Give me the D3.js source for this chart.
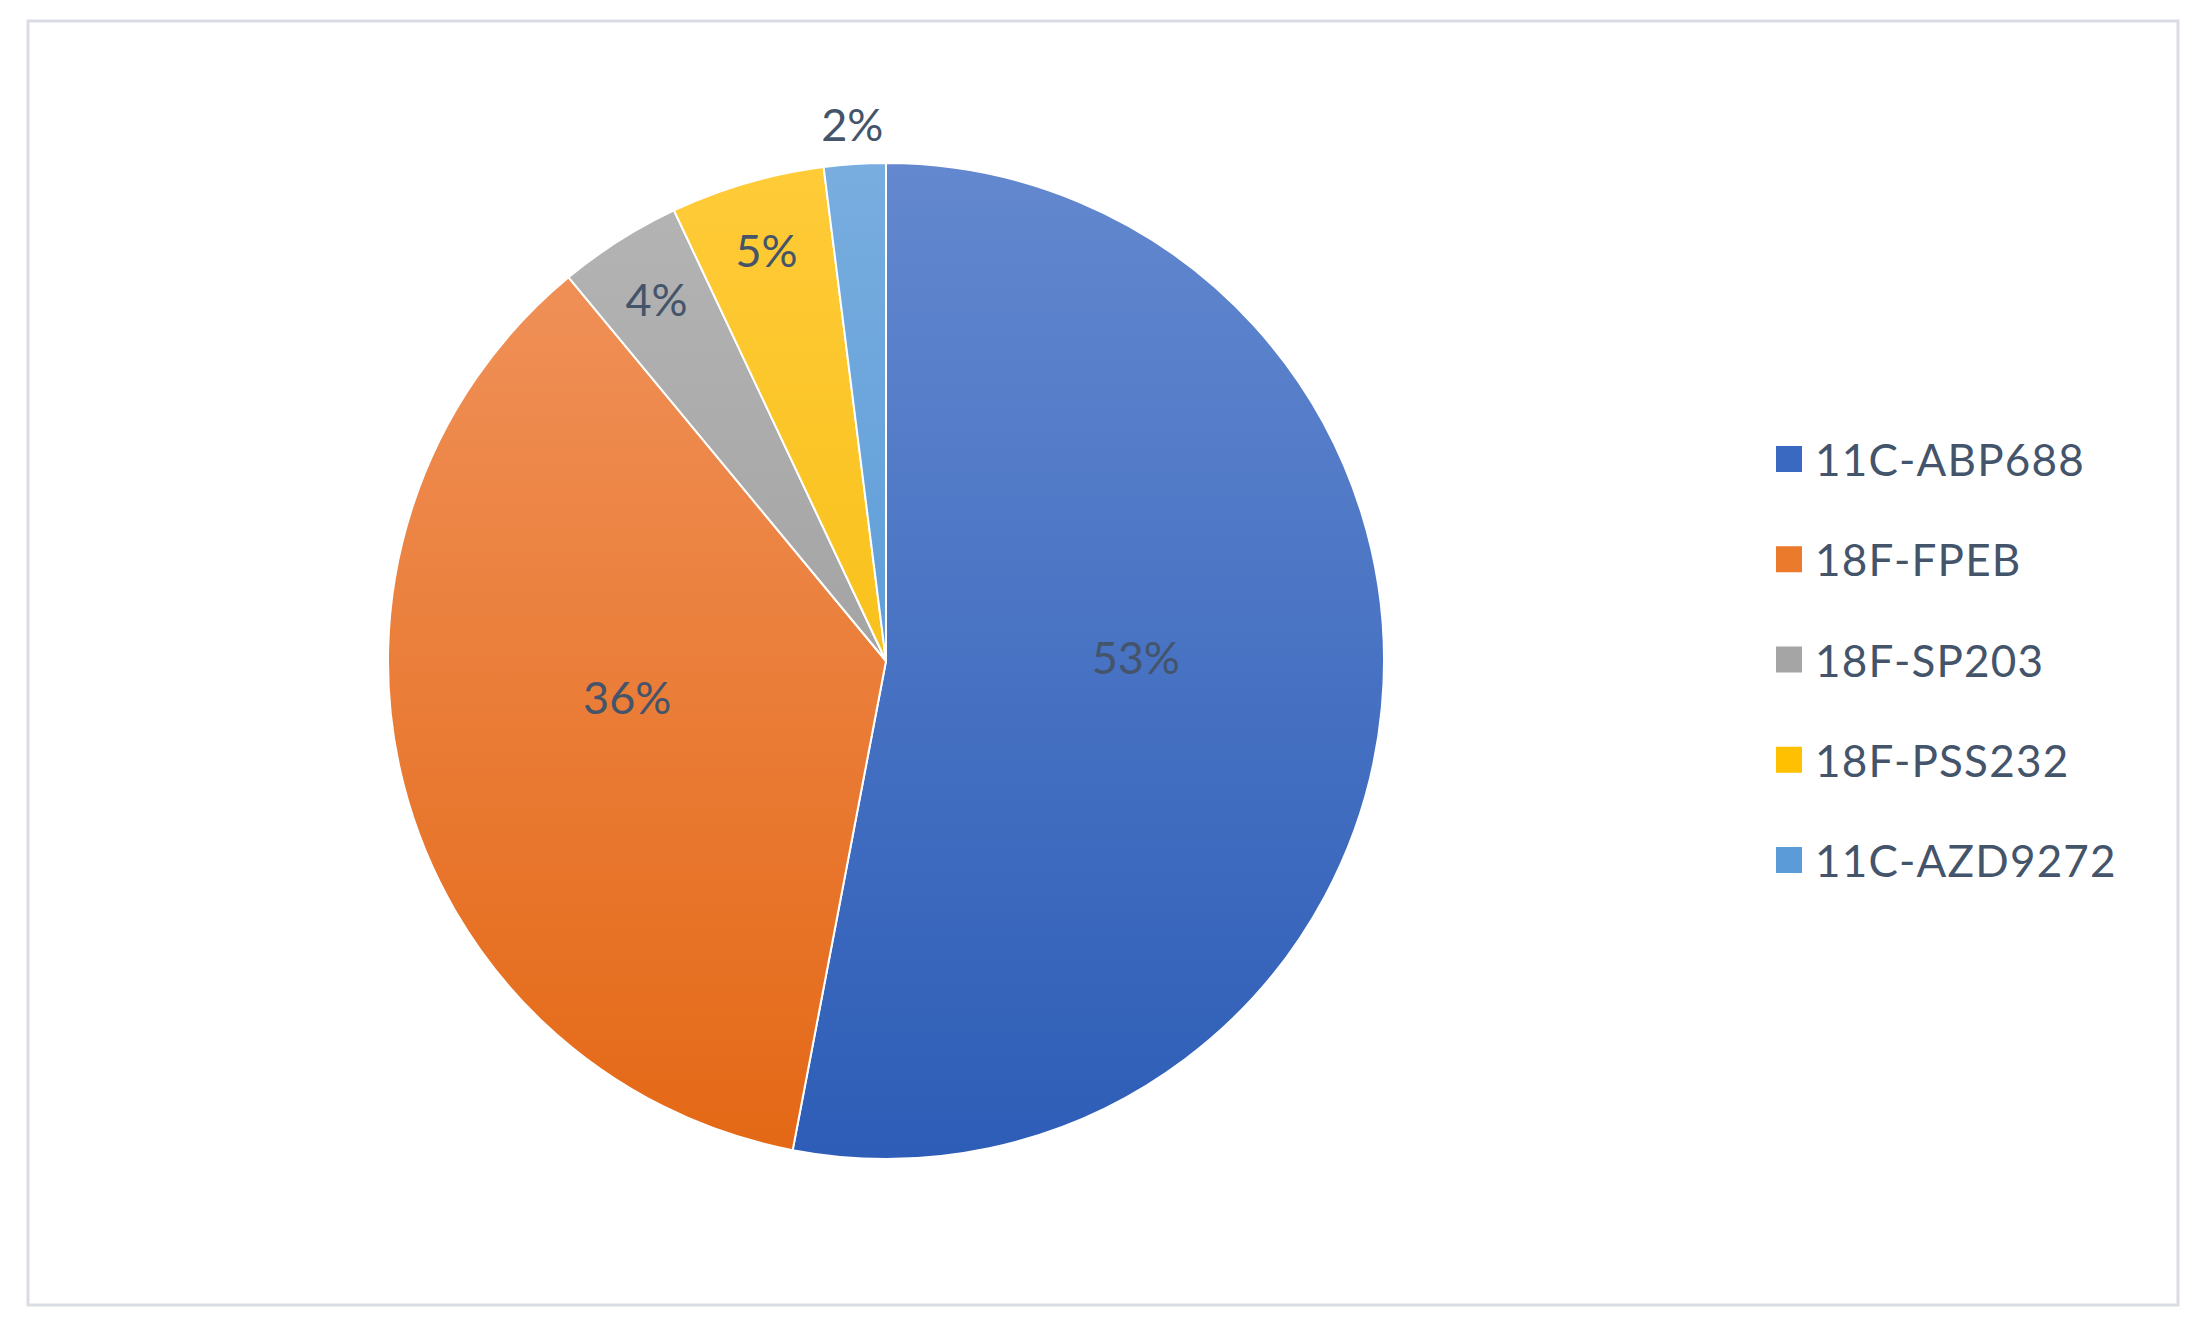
<!DOCTYPE html>
<html><head><meta charset="utf-8">
<script src="https://cdn.jsdelivr.net/npm/d3@7"></script>
<style>body{margin:0;background:#fff}</style></head>
<body><svg id="c" width="2201" height="1332"></svg>
<script>
const categories=["11C-ABP688","18F-FPEB","18F-SP203","18F-PSS232","11C-AZD9272"];
const values=[53,36,4,5,2];
const colors=[["#6388cf","#2d5db7"],["#f19560","#e46815"],["#b5b5b5","#939393"],["#ffcb38","#f2b800"],["#78addf","#4790d3"]];
const legendColors=["#3a69c2","#ec7a2c","#a5a5a5","#fec000","#5a9bd8"];
const W=2201,H=1332,cx=886,cy=661,R=498;
const svg=d3.select("#c");
svg.append("rect").attr("x",28).attr("y",21).attr("width",2150).attr("height",1284).attr("fill","#fff").attr("stroke","#d9dde3").attr("stroke-width",3);
const defs=svg.append("defs");
colors.forEach((c,i)=>{const g=defs.append("linearGradient").attr("id","g"+i).attr("gradientUnits","userSpaceOnUse").attr("x1",0).attr("y1",-R).attr("x2",0).attr("y2",R);
g.append("stop").attr("offset",0).attr("stop-color",c[0]);g.append("stop").attr("offset",1).attr("stop-color",c[1]);});
const pie=d3.pie().sort(null).value(d=>d)(values);
const arc=d3.arc().innerRadius(0).outerRadius(R);
const gp=svg.append("g").attr("transform",`translate(${cx},${cy})`);
gp.selectAll("path").data(pie).join("path").attr("d",arc).attr("fill",(d,i)=>`url(#g${i})`).attr("stroke","#fff").attr("stroke-width",2);
gp.selectAll("text").data(pie).join("text").each(function(d){
 const f=d.data>=20?0.52:(d.data>=3?0.86:1.08);
 const a=(d.startAngle+d.endAngle)/2;
 const dy=d.data>=20?-28:0;
 d3.select(this).attr("x",Math.sin(a)*R*f-(d.data>=20?8:0)).attr("y",-Math.cos(a)*R*f+dy);
}).attr("text-anchor","middle").attr("dominant-baseline","central").attr("font-family","Lato, 'Open Sans', sans-serif").attr("font-size",45).attr("fill","#44546a").text(d=>d.data+"%");
const y=d3.scalePoint().domain(categories).range([459,860]);
const lg=svg.append("g");
categories.forEach((c,i)=>{
 lg.append("rect").attr("x",1776).attr("y",y(c)-13).attr("width",26).attr("height",26).attr("fill",legendColors[i]);
 lg.append("text").attr("x",1815).attr("y",y(c)).attr("dominant-baseline","central").attr("font-family","Lato, 'Open Sans', sans-serif").attr("font-size",44).attr("letter-spacing",1.2).attr("fill","#44546a").text(c);
});
</script></body></html>
